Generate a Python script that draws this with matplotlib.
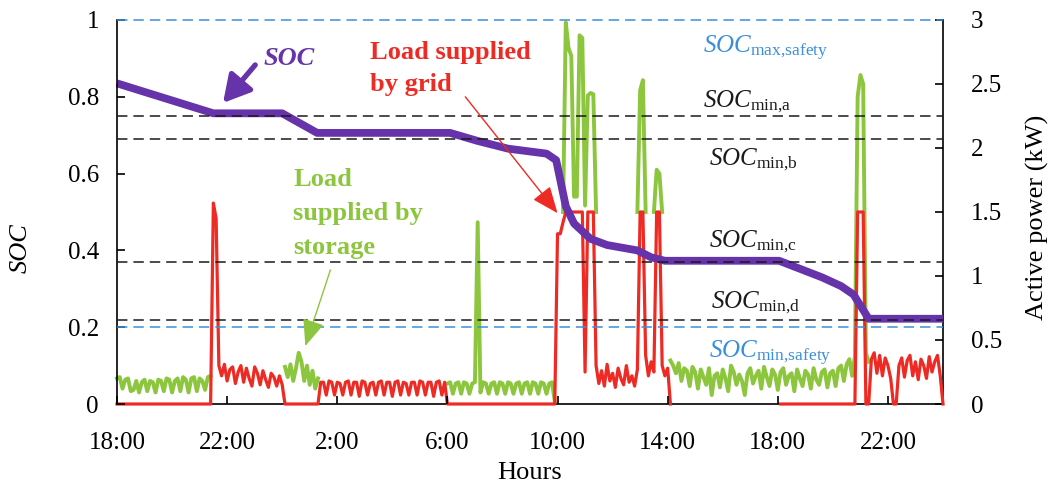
import numpy as np
import matplotlib
matplotlib.use("Agg")
import matplotlib.pyplot as plt

plt.rcParams.update({
    "font.family": ["Liberation Serif", "DejaVu Serif"],
    "mathtext.fontset": "custom",
    "mathtext.rm": "Liberation Serif",
    "mathtext.it": "Liberation Serif:italic",
    "mathtext.bf": "Liberation Serif:bold",
    "lines.scale_dashes": False,
})

nan = float("nan")

# ---------------- data ----------------
SAMPLE_STEP_H = 0.1          # sampling interval of the power traces (hours after 18:00)
x_tick_hours = [0, 4, 8, 12, 16, 20, 24, 28]
x_tick_labels = ["18:00", "22:00", "2:00", "6:00", "10:00", "14:00", "18:00", "22:00"]
soc_ticks = [0, 0.2, 0.4, 0.6, 0.8, 1.0]
soc_tick_labels = ["0", "0.2", "0.4", "0.6", "0.8", "1"]
power_ticks = [0, 0.5, 1, 1.5, 2, 2.5, 3]
power_tick_labels = ["0", "0.5", "1", "1.5", "2", "2.5", "3"]

soc_hours = [0.0, 3.5, 6.0, 7.27, 12.1, 13.1, 14.2, 15.6, 15.95, 16.3, 16.6, 17.2,
             17.8, 18.9, 19.4, 19.9, 24.05, 25.6, 26.3, 26.75, 27.3, 30.0]
soc_values = [0.835, 0.757, 0.757, 0.706, 0.706, 0.685, 0.665, 0.652, 0.635, 0.515, 0.47, 0.43,
              0.414, 0.40, 0.382, 0.373, 0.373, 0.33, 0.307, 0.285, 0.222, 0.222]

# load supplied by storage (kW), one value every 0.1 h
storage_kw = [
    0.20, 0.21, 0.12, 0.19, 0.20, 0.10, 0.11, 0.18, 0.09, 0.17,
    0.19, 0.10, 0.18, 0.17, 0.09, 0.19, 0.18, 0.10, 0.20, 0.19,
    0.09, 0.18, 0.20, 0.10, 0.21, 0.19, 0.09, 0.20, 0.21, 0.10,
    0.20, 0.18, 0.11, 0.21, 0.22, nan, nan, nan, nan, nan,
    nan, nan, nan, nan, nan, nan, nan, nan, nan, nan,
    nan, nan, nan, nan, nan, nan, nan, nan, nan, nan,
    nan, 0.29, 0.21, 0.31, 0.18, 0.28, 0.40, 0.33, 0.18, 0.30,
    0.15, 0.26, 0.12, 0.20, nan, nan, nan, nan, nan, nan,
    nan, nan, nan, nan, nan, nan, nan, nan, nan, nan,
    nan, nan, nan, nan, nan, nan, nan, nan, nan, nan,
    nan, nan, nan, nan, nan, nan, nan, nan, nan, nan,
    nan, nan, nan, nan, nan, nan, nan, nan, nan, nan,
    0.16, 0.17, 0.08, 0.16, 0.17, 0.08, 0.17, 0.16, 0.08, 0.16,
    0.17, 1.42, 0.09, 0.17, 0.16, 0.08, 0.16, 0.17, 0.08, 0.17,
    0.16, 0.08, 0.17, 0.16, 0.08, 0.16, 0.17, 0.08, 0.16, 0.17,
    0.08, 0.17, 0.16, 0.08, 0.17, 0.16, 0.08, 0.16, 0.17, 0.02,
    nan, nan, 1.50, 2.98, 2.78, 2.72, 1.62, 1.62, 2.88, 2.86,
    1.55, 2.41, 2.43, 2.42, 1.50, nan, nan, nan, nan, nan,
    nan, nan, nan, nan, nan, nan, nan, nan, nan, 1.50,
    2.45, 2.53, 1.50, nan, nan, 1.50, 1.83, 1.80, 1.50, nan,
    nan, 0.34, 0.30, 0.24, 0.32, 0.18, 0.28, 0.26, 0.14, 0.29,
    0.25, 0.12, 0.27, 0.21, 0.15, 0.28, 0.07, 0.22, 0.24, 0.13,
    0.27, 0.20, 0.10, 0.30, 0.25, 0.15, 0.23, 0.18, 0.07, 0.24,
    0.28, 0.16, 0.22, 0.26, 0.12, 0.29, 0.21, 0.14, 0.27, 0.23,
    0.11, 0.25, 0.28, 0.15, 0.22, 0.24, 0.10, 0.27, 0.20, 0.14,
    0.26, 0.23, 0.12, 0.28, 0.19, 0.15, 0.25, 0.27, 0.13, 0.24,
    0.26, 0.14, 0.28, 0.30, 0.18, 0.31, 0.35, 0.22, 0.37, 2.40,
    2.57, 2.50, 0.40, 0.33, nan, nan, nan, nan, nan, nan,
    nan, nan, nan, nan, nan, nan, nan, nan, nan, nan,
    nan, nan, nan, nan, nan, nan, nan, nan, nan, nan,
    nan,
]

# load supplied by grid (kW), one value every 0.1 h
grid_kw = [
    0, 0, 0, 0, 0, 0, 0, 0, 0, 0,
    0, 0, 0, 0, 0, 0, 0, 0, 0, 0,
    0, 0, 0, 0, 0, 0, 0, 0, 0, 0,
    0, 0, 0, 0, 0, 1.57, 1.45, 0.30, 0.22, 0.31,
    0.18, 0.27, 0.29, 0.16, 0.25, 0.30, 0.17, 0.28, 0.20, 0.14,
    0.29, 0.24, 0.15, 0.26, 0.19, 0.13, 0.24, 0.21, 0.14, 0.22,
    0.15, 0, 0, 0, 0, 0, 0, 0, 0, 0,
    0, 0, 0, 0, 0.17, 0.17, 0.07, 0.18, 0.17, 0.07,
    0.17, 0.16, 0.07, 0.17, 0.18, 0.07, 0.17, 0.17, 0.06, 0.18,
    0.17, 0.07, 0.16, 0.17, 0.07, 0.17, 0.18, 0.07, 0.17, 0.17,
    0.06, 0.17, 0.18, 0.07, 0.17, 0.16, 0.07, 0.17, 0.17, 0.07,
    0.18, 0.17, 0.07, 0.17, 0.17, 0.06, 0.17, 0.18, 0.07, 0.17,
    0, 0, 0, 0, 0, 0, 0, 0, 0, 0,
    0, 0, 0, 0, 0, 0, 0, 0, 0, 0,
    0, 0, 0, 0, 0, 0, 0, 0, 0, 0,
    0, 0, 0, 0, 0, 0, 0, 0, 0, 0,
    1.33, 1.33, 1.42, 1.50, 1.50, 1.50, 1.50, 1.50, 1.50, 1.50,
    0.25, 1.50, 1.50, 1.50, 0.30, 0.16, 0.26, 0.14, 0.31, 0.18,
    0.24, 0.13, 0.28, 0.20, 0.15, 0.30, 0.17, 0.22, 0.14, 0.27,
    1.50, 1.50, 0.38, 0.22, 0.33, 0.25, 1.50, 1.50, 0.30, 0.22,
    0.28, 0, nan, nan, nan, nan, nan, nan, nan, nan,
    nan, nan, nan, nan, nan, nan, nan, nan, nan, nan,
    nan, nan, nan, nan, nan, nan, nan, nan, nan, nan,
    nan, nan, nan, nan, nan, nan, nan, nan, nan, nan,
    nan, 0, 0, 0, 0, 0, 0, 0, 0, 0,
    0, 0, 0, 0, 0, 0, 0, 0, 0, 0,
    0, 0, 0, 0, 0, 0, 0, 0, 0, 1.50,
    1.50, 1.50, 0, 0, 0.35, 0.40, 0.24, 0.38, 0.22, 0.36,
    0.30, 0.20, 0, 0, 0.30, 0.36, 0.21, 0.34, 0.38, 0.22,
    0.33, 0.19, 0.35, 0.30, 0.20, 0.37, 0.25, 0.33, 0.38, 0.22,
    0,
]
assert len(storage_kw) == len(grid_kw) == 301

soc_limit_values = [1.0, 0.75, 0.69, 0.37, 0.22, 0.20]
soc_limit_kinds = ["safety", "min", "min", "min", "min", "safety"]
soc_limit_labels = [r"$\mathit{SOC}_{\mathrm{max{,}safety}}$", r"$\mathit{SOC}_{\mathrm{min{,}a}}$",
                    r"$\mathit{SOC}_{\mathrm{min{,}b}}$", r"$\mathit{SOC}_{\mathrm{min{,}c}}$",
                    r"$\mathit{SOC}_{\mathrm{min{,}d}}$", r"$\mathit{SOC}_{\mathrm{min{,}safety}}$"]
label_pos_hours = [21.27, 21.27, 21.5, 21.5, 21.56, 21.5]
label_pos_soc = [0.914, 0.773, 0.622, 0.409, 0.25, 0.12]

# ---------------- styling ----------------
PURPLE = "#6633aa"
GREEN = "#8cc63e"
RED = "#ed2b24"
BLUE = "#3a8fdc"
BLACK = "#1a1a1a"

W, H = 1057, 486
fig = plt.figure(figsize=(W / 100, H / 100), dpi=100)
fig.patch.set_facecolor("white")
ax = fig.add_axes([117 / W, 1 - 404 / H, (943 - 117) / W, 384 / H])
ax2 = ax.twinx()
ax.set_zorder(ax2.get_zorder() + 1)
ax.patch.set_visible(False)

hours = np.arange(len(grid_kw)) * SAMPLE_STEP_H
ax2.plot(hours, storage_kw, color=GREEN, lw=2.8, zorder=2, clip_on=False)
ax2.plot(hours, grid_kw, color=RED, lw=2.3, zorder=3, clip_on=False)
ax2.set_ylim(0, 3)
ax2.set_xlim(0, 30)

ax.plot(soc_hours, soc_values, color=PURPLE, lw=5.6, zorder=2, solid_capstyle="butt",
        solid_joinstyle="round", clip_on=False)
for val, kind in zip(soc_limit_values, soc_limit_kinds):
    col = BLUE if kind == "safety" else BLACK
    ax.plot([0, 30], [val, val], color=col, lw=1.1, dashes=(7.5, 4.3), zorder=3, clip_on=False)
for lab, kind, hx, sy in zip(soc_limit_labels, soc_limit_kinds, label_pos_hours, label_pos_soc):
    col = BLUE if kind == "safety" else BLACK
    ax.text(hx, sy, lab, color=col, fontsize=18, ha="left", va="baseline", zorder=5)

ax.set_xlim(0, 30)
ax.set_ylim(0, 1)

# spines
for s in ["top", "right", "bottom"]:
    ax.spines[s].set_visible(False)
ax.spines["left"].set_linewidth(1.2)
ax2.spines["top"].set_visible(False)
ax2.spines["left"].set_visible(False)
ax2.spines["right"].set_linewidth(1.2)
ax2.spines["bottom"].set_linewidth(1.2)

ax.set_xticks(x_tick_hours)
ax.set_xticklabels(x_tick_labels)
ax.set_yticks(soc_ticks)
ax.set_yticklabels(soc_tick_labels)
ax2.set_yticks(power_ticks)
ax2.set_yticklabels(power_tick_labels)
ax.tick_params(axis="both", direction="in", length=6, width=1.2, labelsize=18)
ax.tick_params(axis="y", pad=13)
ax.tick_params(axis="x", pad=20)
ax2.tick_params(axis="y", direction="in", length=6, width=1.2, labelsize=18, pad=20)

ax.set_ylabel("SOC", fontsize=19, style="italic")
ax.yaxis.set_label_coords(-0.103, 0.406)
ax2.set_ylabel("Active power (kW)", fontsize=19)
ax2.yaxis.set_label_coords(1.10, 0.487)
ax.set_xlabel("Hours", fontsize=19)
ax.xaxis.set_label_coords(0.5, -0.152)

# annotations
ax.text(5.31, 0.883, "SOC", color=PURPLE, fontsize=19, style="italic", fontweight="bold",
        ha="left", va="baseline")
ax.annotate("", xy=(3.85, 0.784), xytext=(5.02, 0.883),
            arrowprops=dict(arrowstyle="-|>,head_length=0.9,head_width=0.5", lw=3.8,
                            color=PURPLE, shrinkA=0, shrinkB=0, mutation_scale=18))

ax.text(9.2, 0.945, "Load supplied\nby grid", color=RED, fontsize=19, fontweight="bold",
        ha="left", va="top", linespacing=1.5)
ax.annotate("", xy=(16.0, 0.497), xytext=(12.65, 0.80),
            arrowprops=dict(arrowstyle="-|>,head_length=1.1,head_width=0.45", lw=1.0,
                            color=RED, shrinkA=0, shrinkB=0, mutation_scale=15))

ax.text(6.4, 0.615, "Load\nsupplied by\nstorage", color=GREEN, fontsize=19, fontweight="bold",
        ha="left", va="top", linespacing=1.62)
ax.annotate("", xy=(6.84, 0.151), xytext=(7.75, 0.349),
            arrowprops=dict(arrowstyle="-|>,head_length=1.1,head_width=0.45", lw=1.0,
                            color=GREEN, shrinkA=0, shrinkB=0, mutation_scale=15))

fig.savefig("out.png", dpi=100)
